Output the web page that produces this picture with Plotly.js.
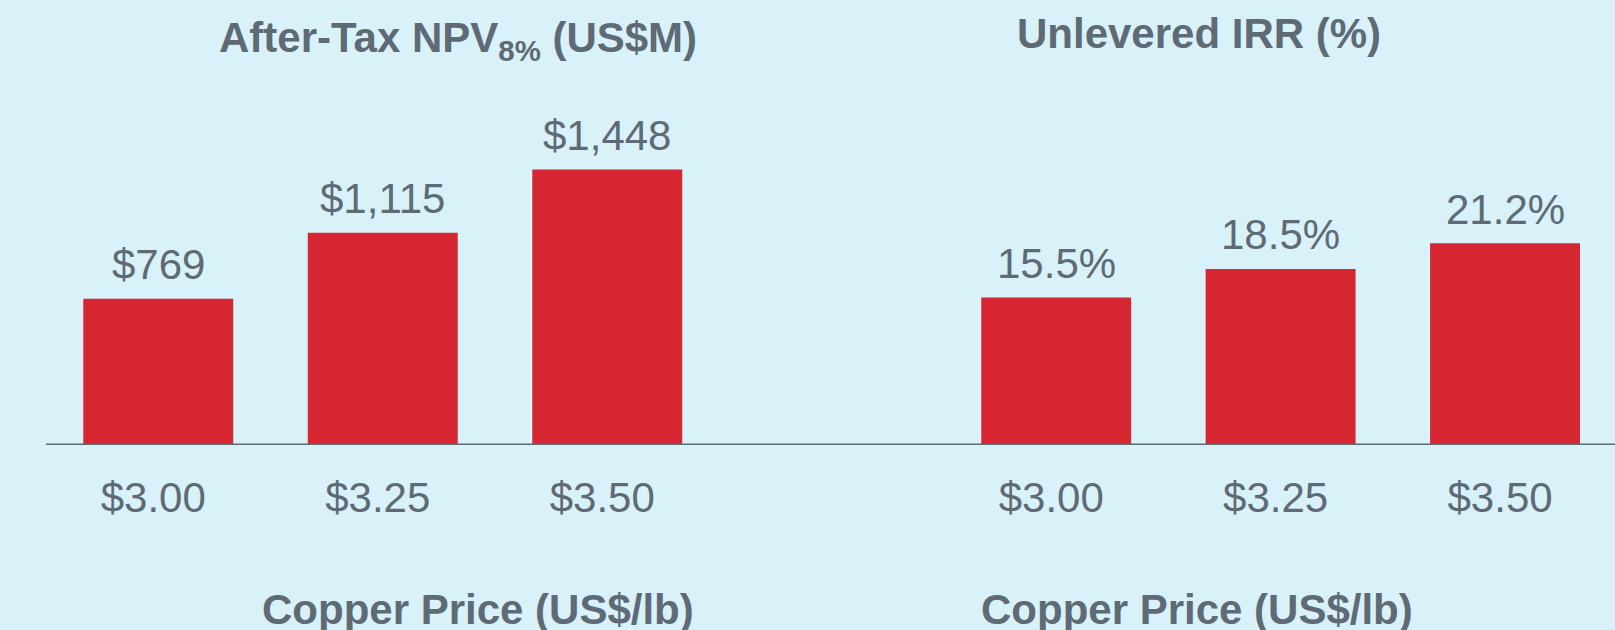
<!DOCTYPE html>
<html>
<head>
<meta charset="utf-8">
<script src="https://cdn.plot.ly/plotly-3.0.1.min.js"></script>
<style>
html,body{margin:0;padding:0;background:#d9f1f8;}
#chart{width:1615px;height:630px;}
</style>
</head>
<body>
<div id="chart"></div>
<script>
const categories = ["$3.00", "$3.25", "$3.50"];
const npvValues = [769, 1115, 1448];
const npvLabels = ["$769", "$1,115", "$1,448"];
const irrValues = [15.5, 18.5, 21.2];
const irrLabels = ["15.5%", "18.5%", "21.2%"];
const npvTitle = "After-Tax NPV<sub>8%</sub> (US$M)";
const irrTitle = "Unlevered IRR (%)";
const xTitle = "Copper Price (US$/lb)";

const W = 1615, H = 630;
const textColor = "#5e6a75";
const barColor = "#d52631";
const font = "Liberation Sans, Arial, sans-serif";

const traces = [
  {type: "bar", x: categories, y: npvValues, xaxis: "x", yaxis: "y",
   marker: {color: barColor}, hoverinfo: "none"},
  {type: "bar", x: categories, y: irrValues, xaxis: "x2", yaxis: "y2",
   marker: {color: barColor}, hoverinfo: "none"}
];

const annotations = [];
categories.forEach((c, i) => {
  annotations.push({x: i, y: npvValues[i], xref: "x", yref: "y", text: npvLabels[i],
    showarrow: false, yanchor: "middle", yshift: 34, font: {size: 42, color: textColor, family: font}});
  annotations.push({x: i, y: irrValues[i], xref: "x2", yref: "y2", text: irrLabels[i],
    showarrow: false, yanchor: "middle", yshift: 34, font: {size: 42, color: textColor, family: font}});
});
annotations.push({x: 458 / W, y: 1 - 41 / H, xref: "paper", yref: "paper", text: "<b>" + npvTitle + "</b>",
  showarrow: false, xanchor: "center", yanchor: "middle", font: {size: 42, color: textColor, family: font}});
annotations.push({x: 1199 / W, y: 1 - 33 / H, xref: "paper", yref: "paper", text: "<b>" + irrTitle + "</b>",
  showarrow: false, xanchor: "center", yanchor: "middle", font: {size: 42, color: textColor, family: font}});
annotations.push({x: 478 / W, y: 1 - 609 / H, xref: "paper", yref: "paper", text: "<b>" + xTitle + "</b>",
  showarrow: false, xanchor: "center", yanchor: "middle", font: {size: 42, color: textColor, family: font}});
annotations.push({x: 1197 / W, y: 1 - 609 / H, xref: "paper", yref: "paper", text: "<b>" + xTitle + "</b>",
  showarrow: false, xanchor: "center", yanchor: "middle", font: {size: 42, color: textColor, family: font}});

const yBottom = 1 - 445 / H, yTop = 1 - 100 / H;
const axisCommon = {type: "category", showgrid: false, zeroline: false, showline: false, ticks: "",
  tickfont: {size: 42, color: textColor, family: font}, fixedrange: true,
  ticklabelstandoff: 24, ticklabelshift: -5};
const yCommon = {showgrid: false, zeroline: false, showline: false, showticklabels: false, fixedrange: true};

const layout = {
  width: W, height: H,
  margin: {l: 0, r: 0, t: 0, b: 0, pad: 0},
  paper_bgcolor: "#d9f1f8", plot_bgcolor: "rgba(0,0,0,0)",
  showlegend: false,
  bargap: 0.332,
  xaxis: Object.assign({}, axisCommon, {domain: [46 / W, 719.5 / W], range: [-0.5, 2.5], anchor: "y"}),
  xaxis2: Object.assign({}, axisCommon, {domain: [944 / W, 1], range: [-0.5, 2.49], anchor: "y2"}),
  yaxis: Object.assign({}, yCommon, {domain: [yBottom, yTop], range: [0, 345 / 0.1903], anchor: "x"}),
  yaxis2: Object.assign({}, yCommon, {domain: [yBottom, yTop], range: [0, 345 / 9.52], anchor: "x2"}),
  annotations: annotations,
  shapes: [{type: "line", xref: "paper", yref: "y", x0: 46 / W, x1: 1, y0: 0, y1: 0,
    line: {color: "#5e6a75", width: 3}, layer: "above"}]
};

Plotly.newPlot("chart", traces, layout, {displayModeBar: false, staticPlot: true});
</script>
</body>
</html>
